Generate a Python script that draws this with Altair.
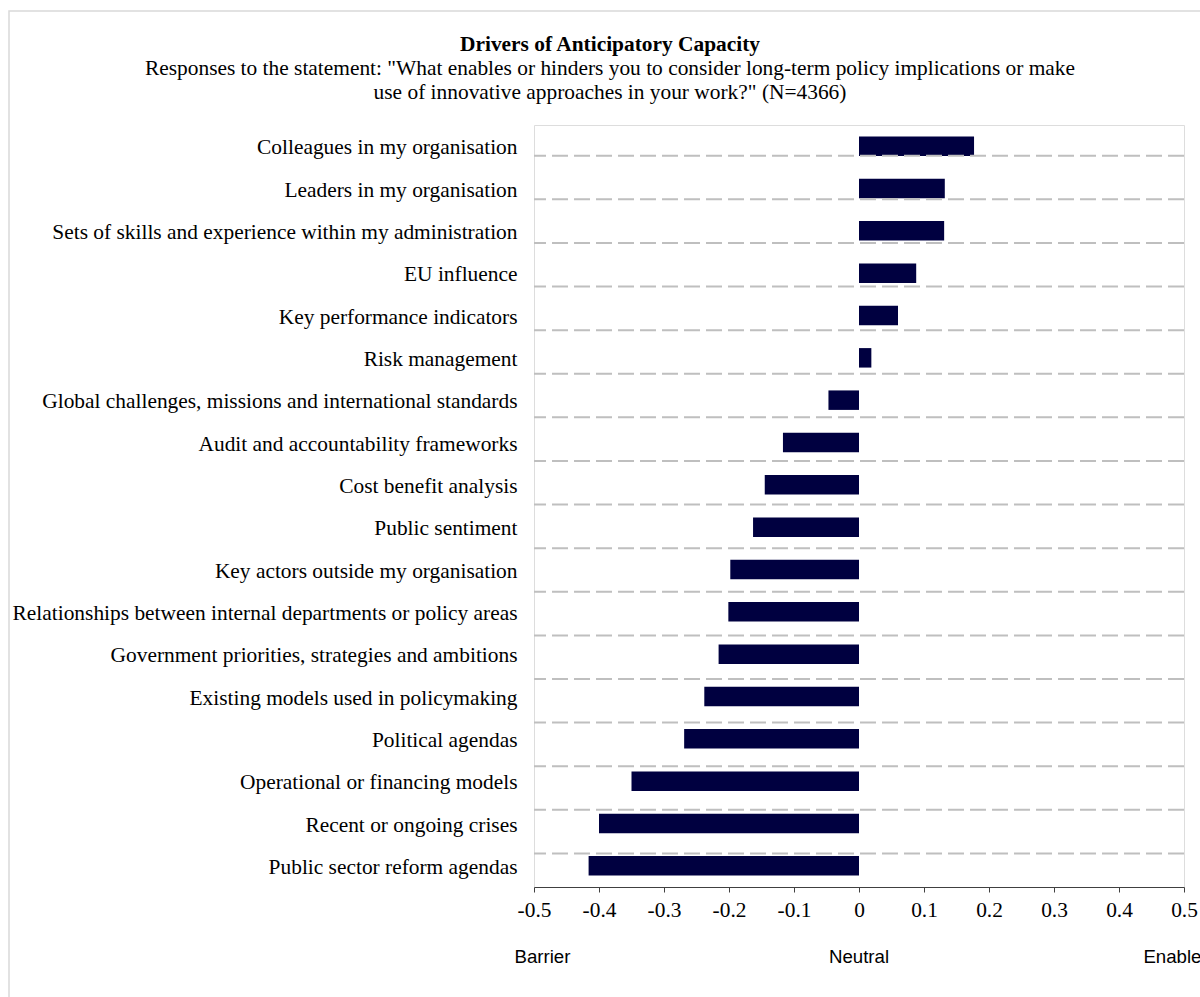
import altair as alt
import pandas as pd

categories = [
    "Colleagues in my organisation",
    "Leaders in my organisation",
    "Sets of skills and experience within my administration",
    "EU influence",
    "Key performance indicators",
    "Risk management",
    "Global challenges, missions and international standards",
    "Audit and accountability frameworks",
    "Cost benefit analysis",
    "Public sentiment",
    "Key actors outside my organisation",
    "Relationships between internal departments or policy areas",
    "Government priorities, strategies and ambitions",
    "Existing models used in policymaking",
    "Political agendas",
    "Operational or financing models",
    "Recent or ongoing crises",
    "Public sector reform agendas",
]
values = [0.177, 0.132, 0.131, 0.088, 0.060, 0.019, -0.047, -0.117, -0.145,
          -0.163, -0.198, -0.201, -0.216, -0.238, -0.269, -0.350, -0.400, -0.416]

x_ticks = [-0.5, -0.4, -0.3, -0.2, -0.1, 0, 0.1, 0.2, 0.3, 0.4, 0.5]
grid_ticks = list(range(17))
scale_labels = ["Barrier", "Neutral", "Enabler"]
scale_label_pos = [-0.487, 0.0, 0.487]

title_text = "Drivers of Anticipatory Capacity"
subtitle_line1 = 'Responses to the statement: "What enables or hinders you to consider long-term policy implications or make'
subtitle_line2 = 'use of innovative approaches in your work?" (N=4366)'

df = pd.DataFrame({"category": categories, "value": values})
grid_df = pd.DataFrame({"g": grid_ticks})
lab_df = pd.DataFrame({"label": scale_labels, "pos": scale_label_pos})
one = pd.DataFrame({"k": [1]})

SERIF = "Liberation Serif"
SANS = "Liberation Sans"
FS = 21.4

xscale = alt.Scale(domain=[-0.5, 0.5], nice=False, zero=False)

frame = alt.Chart(one).mark_rect(fill=None, stroke="#d9d9d9", strokeWidth=1.5).encode(
    x=alt.value(-525), x2=alt.value(700), y=alt.value(-114), y2=alt.value(900)
)

bars = alt.Chart(df).mark_bar(color="#000040").encode(
    x=alt.X("value:Q", scale=xscale,
            axis=alt.Axis(values=x_ticks, title=None, grid=False,
                          labelExpr="datum.value == 0 ? '0' : (datum.value < 0 ? '-' : '') + format(abs(datum.value), '.1f')",
                          labelFont=SERIF, labelFontSize=FS, labelColor="black",
                          tickSize=5, tickColor="#404040", domainColor="#404040",
                          labelPadding=7, labelFlush=False)),
    y=alt.Y("category:N", sort=categories,
            scale=alt.Scale(paddingInner=0.54, paddingOuter=0.27),
            axis=alt.Axis(title=None, ticks=False, domain=False, grid=False,
                          labelFont=SERIF, labelFontSize=FS, labelColor="black",
                          labelPadding=17, labelLimit=700, labelOffset=2)),
)

grid = alt.Chart(grid_df).mark_rule(color="#bfbfbf", strokeWidth=2, strokeDash=[16, 6]).encode(
    y=alt.Y("g:Q", scale=alt.Scale(domain=[-0.704, 16.77], reverse=True, nice=False, zero=False),
            axis=None)
)

texts = alt.Chart(lab_df).mark_text(font=SANS, fontSize=18.67, color="black",
                                    baseline="middle", align="center").encode(
    x=alt.X("pos:Q", scale=xscale),
    y=alt.value(832),
    text="label:N",
)

t_title = alt.Chart(one).mark_text(font=SERIF, fontSize=FS, fontWeight="bold", color="black",
                                   baseline="middle", align="center").encode(
    x=alt.value(76), y=alt.value(-80), text=alt.value(title_text))
t_sub1 = alt.Chart(one).mark_text(font=SERIF, fontSize=FS, color="black",
                                  baseline="middle", align="center").encode(
    x=alt.value(76), y=alt.value(-56), text=alt.value(subtitle_line1))
t_sub2 = alt.Chart(one).mark_text(font=SERIF, fontSize=FS, color="black",
                                  baseline="middle", align="center").encode(
    x=alt.value(76), y=alt.value(-32), text=alt.value(subtitle_line2))

chart = alt.layer(frame, bars, grid, texts, t_title, t_sub1, t_sub2).resolve_scale(y="independent").properties(
    width=650,
    height=762,
    autosize=alt.AutoSizeParams(type="none"),
    padding={"left": 534, "top": 125, "right": 16, "bottom": 110},
).configure_view(stroke="#d9d9d9", strokeWidth=1.5).configure(background="white")

chart.save("out.html", embed_options={"renderer": "svg", "actions": False})
